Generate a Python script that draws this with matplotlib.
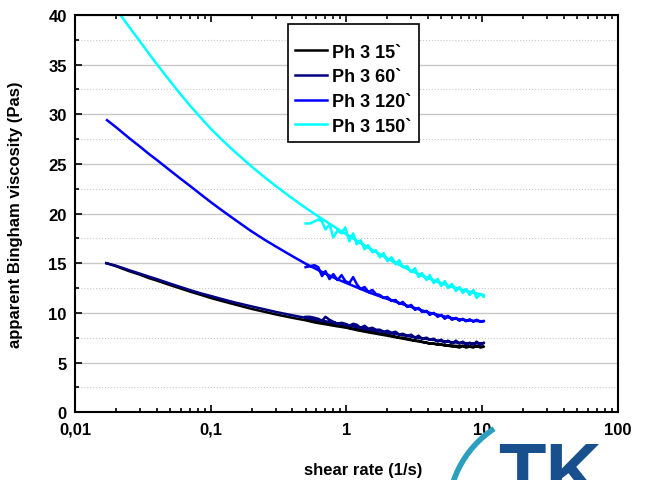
import matplotlib
matplotlib.use("Agg")
import matplotlib.pyplot as plt
from matplotlib.ticker import MultipleLocator, FixedLocator, NullFormatter
from matplotlib.patches import Arc

plt.rcParams['font.family'] = ['Liberation Sans', 'DejaVu Sans']
plt.rcParams['font.weight'] = 'bold'

# up sweep (smooth part)
x_up_15 = [0.017, 0.02, 0.025, 0.03, 0.035, 0.04, 0.05, 0.06, 0.07, 0.085, 0.1, 0.12, 0.15, 0.2, 0.25, 0.3,
           0.4, 0.5, 0.6, 0.7, 0.85, 1.0, 1.2, 1.5, 2.0, 2.5, 3.0, 4.0, 5.0, 6.0, 7.0, 8.5, 10.3]
y_up_15 = [15.0, 14.7, 14.2, 13.85, 13.5, 13.25, 12.8, 12.45, 12.15, 11.8, 11.5, 11.2, 10.85, 10.4, 10.1, 9.85,
           9.5, 9.25, 9.0, 8.85, 8.65, 8.5, 8.25, 8.0, 7.7, 7.45, 7.25, 6.95, 6.8, 6.7, 6.65, 6.6, 6.6]
x_up_60 = x_up_15
y_up_60 = [15.0, 14.75, 14.3, 13.95, 13.65, 13.4, 12.95, 12.6, 12.3, 11.95, 11.7, 11.4, 11.05, 10.65, 10.35, 10.1,
           9.75, 9.5, 9.3, 9.15, 8.95, 8.8, 8.55, 8.3, 8.0, 7.8, 7.6, 7.35, 7.15, 7.05, 6.97, 6.93, 6.95]
x_up_120 = [0.0172, 0.02, 0.025, 0.03, 0.035, 0.04, 0.05, 0.06, 0.07, 0.085, 0.1, 0.12, 0.15, 0.195, 0.25, 0.3,
            0.4, 0.5, 0.6, 0.7, 0.85, 1.0, 1.2, 1.5, 2.0, 2.5, 3.0, 4.0, 5.0, 6.0, 7.2, 8.5, 10.3]
y_up_120 = [29.4, 28.7, 27.6, 26.75, 26.0, 25.4, 24.35, 23.5, 22.8, 21.9, 21.15, 20.35, 19.4, 18.3, 17.35, 16.7,
            15.7, 14.95, 14.4, 13.95, 13.4, 13.0, 12.55, 12.0, 11.4, 10.95, 10.6, 10.05, 9.7, 9.47, 9.3, 9.2, 9.15]
x_up_150 = [0.017, 0.02, 0.022, 0.025, 0.03, 0.035, 0.04, 0.05, 0.06, 0.07, 0.085, 0.1, 0.12, 0.15, 0.2, 0.25,
            0.3, 0.4, 0.5, 0.6, 0.7, 0.85, 1.0, 1.2, 1.5, 2.0, 2.5, 3.0, 4.0, 5.0, 6.0, 7.2, 8.5, 10.3]
y_up_150 = [41.9, 40.6, 39.85, 38.8, 37.35, 36.1, 35.05, 33.35, 32.0, 30.9, 29.6, 28.55, 27.47, 26.23, 24.73, 23.64,
            22.79, 21.51, 20.57, 19.84, 19.24, 18.5, 17.9, 17.25, 16.45, 15.47, 14.77, 14.23, 13.48, 12.98, 12.62,
            12.3, 12.05, 11.8]

# down sweep (noisy), shared shear rates
x_down = [10.3, 9.7, 9.1, 8.6, 8.1, 7.6, 7.2, 6.8, 6.4, 6.0, 5.6, 5.3, 5.0, 4.7, 4.4, 4.1,
          3.9, 3.6, 3.4, 3.2, 3.0, 2.8, 2.6, 2.45, 2.3, 2.15, 2.0, 1.88, 1.76, 1.65, 1.55, 1.45,
          1.36, 1.27, 1.19, 1.12, 1.05, 0.98, 0.92, 0.86, 0.8, 0.75, 0.7, 0.66, 0.62, 0.58, 0.54, 0.5]
y_down_15 = [6.6, 6.5, 6.7, 6.5, 6.6, 6.5, 6.7, 6.5, 6.6, 6.6, 6.7, 6.7, 6.8, 6.8, 6.9, 6.9,
             7.0, 7.1, 7.2, 7.2, 7.3, 7.4, 7.5, 7.5, 7.6, 7.7, 7.8, 7.9, 7.9, 8.0, 8.1, 8.2,
             8.2, 8.3, 8.4, 8.4, 8.5, 8.6, 8.7, 8.8, 8.9, 8.9, 9.0, 9.1, 9.2, 9.3, 9.4, 9.4]
y_down_60 = [7.0, 6.8, 7.1, 6.8, 7.0, 6.8, 7.1, 6.9, 7.2, 6.9, 7.2, 7.0, 7.3, 7.1, 7.4, 7.3,
             7.5, 7.4, 7.7, 7.5, 7.8, 7.7, 7.9, 7.8, 8.1, 8.0, 8.2, 8.1, 8.3, 8.3, 8.5, 8.4,
             8.7, 8.5, 8.8, 8.9, 8.7, 8.9, 9.0, 8.9, 9.1, 9.3, 9.6, 9.2, 9.4, 9.5, 9.6, 9.6]
y_down_120 = [9.2, 9.1, 9.3, 9.1, 9.35, 9.15, 9.4, 9.2, 9.5, 9.3, 9.7, 9.4, 9.8, 9.6, 10.0, 9.8,
              10.2, 10.1, 10.5, 10.3, 10.8, 10.6, 11.1, 10.9, 11.3, 11.2, 11.6, 11.5, 11.8, 11.9, 12.3, 12.1,
              12.6, 12.4, 12.9, 13.6, 13.0, 13.2, 13.8, 13.3, 13.9, 13.4, 14.2, 13.7, 14.6, 14.8, 14.7, 14.6]
y_down_150 = [11.6, 11.9, 11.5, 12.3, 11.8, 12.4, 12.0, 12.6, 12.2, 12.9, 12.5, 13.2, 12.7, 13.4, 13.0, 13.8,
              13.3, 14.0, 13.6, 14.5, 14.1, 14.7, 14.6, 15.3, 14.9, 15.6, 15.2, 16.0, 15.6, 16.3, 16.1, 16.8,
              16.4, 17.3, 16.9, 18.0, 17.2, 18.6, 18.0, 18.3, 17.6, 18.9, 18.4, 19.2, 19.4, 19.2, 19.0, 19.0]

labels = ['Ph 3 15`', 'Ph 3 60`', 'Ph 3 120`', 'Ph 3 150`']
colors = ['#000000', '#000080', '#0000ff', '#00ffff']
ups = [(x_up_15, y_up_15), (x_up_60, y_up_60), (x_up_120, y_up_120), (x_up_150, y_up_150)]
downs = [y_down_15, y_down_60, y_down_120, y_down_150]

fig = plt.figure(figsize=(6.47, 4.81), dpi=100)
ax = fig.add_axes([0.116, 0.141, 0.839, 0.826])

for (xu, yu), yd, lab, c in zip(ups, downs, labels, colors):
    ax.plot(xu + x_down, yu + yd, color=c, lw=1.8, label=lab)

ax.set_xscale('log')
ax.set_xlim(0.01, 100)
ax.set_ylim(0, 40)
ax.xaxis.set_major_locator(FixedLocator([0.01, 0.1, 1, 10, 100]))
ax.set_xticklabels(['0,01', '0,1', '1', '10', '100'])
ax.xaxis.set_minor_formatter(NullFormatter())
ax.yaxis.set_major_locator(MultipleLocator(5))
ax.yaxis.set_minor_locator(MultipleLocator(2.5))

ax.grid(True, axis='y', which='major', color='#c8c8c8', lw=1, ls='-')
ax.grid(True, axis='y', which='minor', color='#c8c8c8', lw=0.8, ls=':')
ax.set_axisbelow(True)

ax.tick_params(which='both', direction='in', top=True, right=False, labelsize=12, width=1.2)
ax.tick_params(which='major', length=5)
ax.tick_params(which='minor', length=3)
ax.tick_params(axis='x', pad=7)
ax.tick_params(axis='y', pad=6)
for lab in ax.get_xticklabels() + ax.get_yticklabels():
    lab.set_fontweight('bold')
for s in ax.spines.values():
    s.set_linewidth(1.5)

ax.set_xlabel('shear rate (1/s)', fontsize=12, fontweight='bold')
ax.xaxis.set_label_coords(0.53, -0.125)
ax.set_ylabel('apparent Bingham viscosity (Pas)', fontsize=12, fontweight='bold')
ax.yaxis.set_label_coords(-0.095, 0.5)

leg = ax.legend(loc='upper left', bbox_to_anchor=(288 / 647, 1 - 25 / 481), bbox_transform=fig.transFigure,
                title=' ', title_fontsize=4, fancybox=False, edgecolor='black', framealpha=1,
                prop={'weight': 'bold', 'size': 13}, handlelength=1.75, labelspacing=0.42,
                borderpad=0.4, handletextpad=0.3, borderaxespad=0)
leg.get_frame().set_linewidth(1.2)

# logo in the bottom right corner
arc = Arc((550 / 647, -34 / 481), 204 / 647, 204 / 481, theta1=116, theta2=185, transform=fig.transFigure,
          color='#2a9fc0', lw=4)
fig.add_artist(arc)
fig.text(498 / 647, -17 / 481, 'TK', fontsize=56, fontweight='bold', color='#17508c', va='baseline')

fig.savefig('out.png', dpi=100)
